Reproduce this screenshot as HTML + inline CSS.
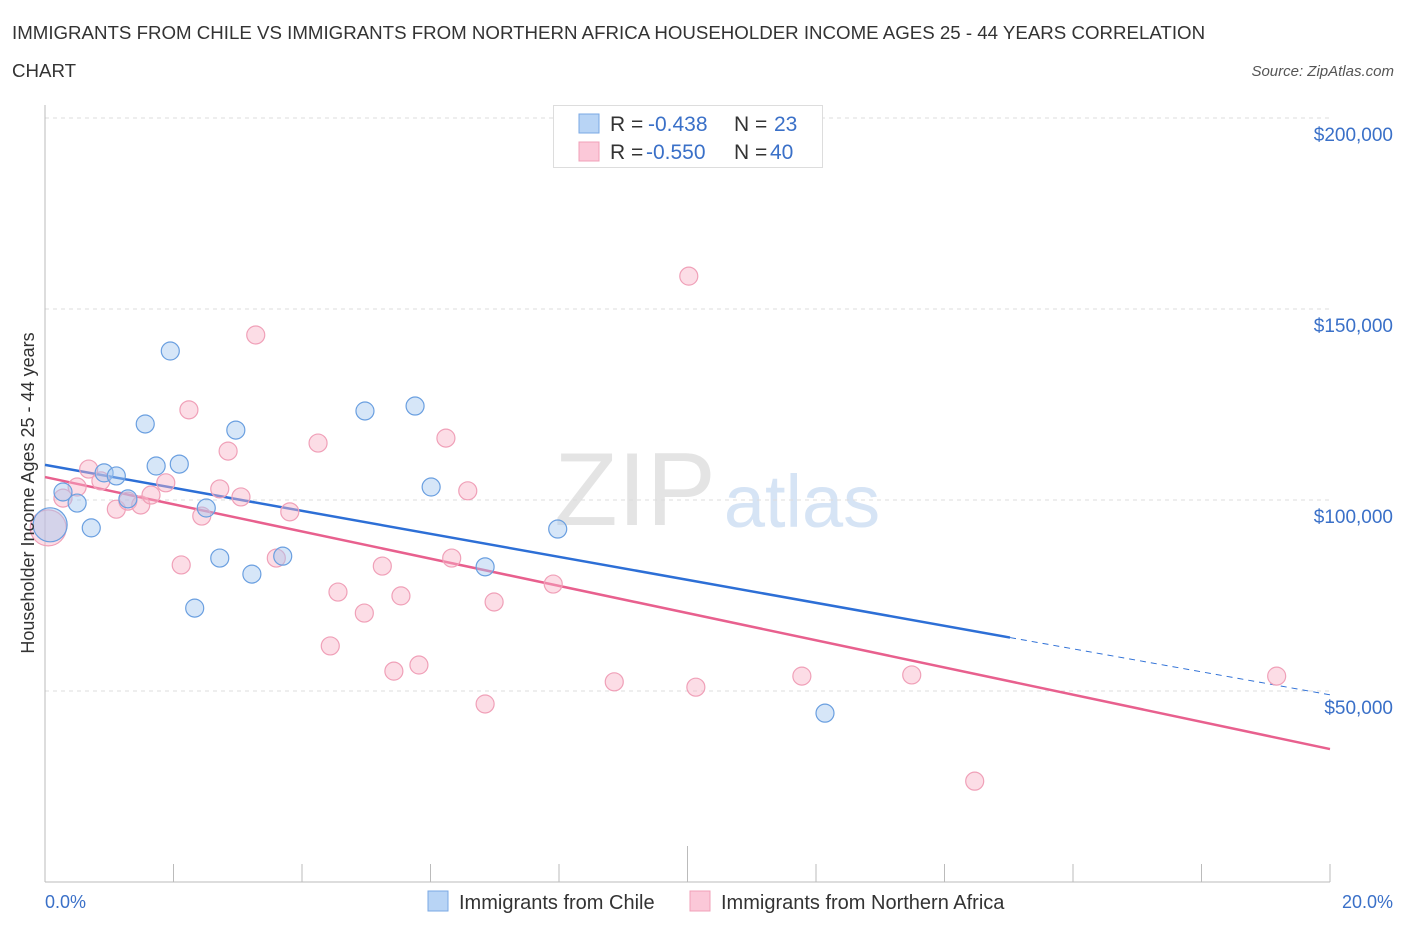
<!DOCTYPE html>
<html><head><meta charset="utf-8">
<style>
body{margin:0;background:#fff;font-family:"Liberation Sans",sans-serif;}
svg text{font-family:"Liberation Sans",sans-serif;}
</style></head>
<body>
<svg id="chart" width="1406" height="930" xmlns="http://www.w3.org/2000/svg">
<text x="12" y="39" font-size="18.7" fill="#333">IMMIGRANTS FROM CHILE VS IMMIGRANTS FROM NORTHERN AFRICA HOUSEHOLDER INCOME AGES 25 - 44 YEARS CORRELATION</text>
<text x="12" y="77" font-size="18.7" fill="#333">CHART</text>
<text x="1394" y="76" font-size="15" fill="#555" font-style="italic" text-anchor="end">Source: ZipAtlas.com</text>
<text x="635" y="525" font-size="104" fill="#e4e4e4" font-family="Liberation Serif" text-anchor="middle">ZIP</text>
<text x="802" y="527" font-size="74" fill="#d6e4f5" text-anchor="middle">atlas</text>
<g id="grid"></g>
<g id="axes"></g>
<g id="lines"></g>
<g id="points"></g>
<text transform="translate(34,493) rotate(-90)" font-size="18" fill="#333" text-anchor="middle">Householder Income Ages 25 - 44 years</text>
<text x="45" y="908" font-size="18" fill="#3a70c8">0.0%</text>
<text x="1393" y="908" font-size="18" fill="#3a70c8" text-anchor="end">20.0%</text>
<g>
<rect x="553.5" y="105.5" width="269" height="62" fill="#fff" stroke="#ddd"/>
<rect x="579" y="114" width="20" height="19" fill="#b8d4f5" stroke="#7aa8e4"/>
<rect x="579" y="142" width="20" height="19" fill="#fbc8d8" stroke="#f0a0b8"/>
<text x="610" y="131" font-size="21" fill="#333">R = <tspan x="648" fill="#3a70c8">-0.438</tspan><tspan x="734">N = </tspan><tspan x="774" fill="#3a70c8">23</tspan></text>
<text x="610" y="159" font-size="21" fill="#333">R = <tspan x="646" fill="#3a70c8">-0.550</tspan><tspan x="734">N = </tspan><tspan x="770" fill="#3a70c8">40</tspan></text>
</g>
<g>
<rect x="428" y="891" width="20" height="20" fill="#b8d4f5" stroke="#7aa8e4"/>
<text x="459" y="909" font-size="20" fill="#333">Immigrants from Chile</text>
<rect x="690" y="891" width="20" height="20" fill="#fbc8d8" stroke="#f0a0b8"/>
<text x="721" y="909" font-size="20" fill="#333">Immigrants from Northern Africa</text>
</g>
</svg>
<script>
const yTicks=[50000,100000,150000,200000];
const yTickLabels=["$50,000","$100,000","$150,000","$200,000"];
const xTicks=[0,2,4,6,8,10,12,14,16,18,20];
const chileX=[0.08,0.28,0.5,0.72,0.92,1.11,1.29,1.56,1.73,1.95,2.09,2.33,2.51,2.72,2.97,3.22,3.70,4.98,5.76,6.01,6.85,7.98,12.14];
const chileY=[93500,102100,99200,92700,107100,106300,100300,119900,108900,139000,109400,71700,97900,84800,118300,80600,85300,123300,124600,103400,82500,92400,44200];
const chileR=[17,9,9,9,9,9,9,9,9,9,9,9,9,9,9,9,9,9,9,9,9,9,9];
const africaX=[0.05,0.28,0.5,0.68,0.87,1.11,1.29,1.49,1.65,1.88,2.12,2.24,2.44,2.72,2.85,3.05,3.28,3.60,3.81,4.25,4.44,4.56,4.97,5.25,5.43,5.54,5.82,6.24,6.33,6.58,6.85,6.99,7.91,8.86,10.02,10.13,11.78,13.49,14.47,19.17];
const africaY=[92700,100500,103400,108100,105000,97600,99700,98700,101300,104500,83000,123600,95800,102900,112800,100800,143200,84800,96900,114900,61800,75900,70400,82700,55200,74900,56800,116200,84800,102400,46600,73300,78000,52400,158600,51000,53900,54200,26400,53900];
const africaR=[18,9,9,9,9,9,9,9,9,9,9,9,9,9,9,9,9,9,9,9,9,9,9,9,9,9,9,9,9,9,9,9,9,9,9,9,9,9,9,9];
const chileTrend=[109200,49000];
const chileSolidEnd=15.02;
const africaTrend=[106000,34800];

const NS="http://www.w3.org/2000/svg";
const sx=v=>45+v*(1330-45)/20;
const sy=v=>691-(v-50000)*191/50000;
function mk(tag,attrs,parent){const e=document.createElementNS(NS,tag);for(const k in attrs)e.setAttribute(k,attrs[k]);document.getElementById(parent).appendChild(e);return e;}

yTicks.forEach((t,i)=>{
 const l=mk('line',{x1:45,x2:1330,y1:sy(t),y2:sy(t),stroke:'#ddd','stroke-dasharray':'4,4'},'grid');
 
 
 const tx=mk('text',{x:1393,y:sy(t)+23,'font-size':19,fill:'#3a70c8','text-anchor':'end'},'grid');
 tx.textContent=yTickLabels[i];
 
 
});
const ax=mk('line',{x1:45,x2:45,y1:105,y2:882,stroke:'#bbb'},'axes');


const bx=mk('line',{x1:45,x2:1330,y1:882,y2:882,stroke:'#bbb'},'axes');


xTicks.forEach(t=>{
 const l=mk('line',{x1:sx(t),x2:sx(t),y1:t===10?846:864,y2:882,stroke:'#bbb'},'axes');
 
 
});
const slopeC=(chileTrend[1]-chileTrend[0])/20;
const l1=mk('line',{x1:sx(0),y1:sy(chileTrend[0]),x2:sx(chileSolidEnd),y2:sy(chileTrend[0]+slopeC*chileSolidEnd),stroke:'#2d6fd6','stroke-width':2.5},'lines');


const l2=mk('line',{x1:sx(chileSolidEnd),y1:sy(chileTrend[0]+slopeC*chileSolidEnd),x2:sx(20),y2:sy(chileTrend[1]),stroke:'#2d6fd6','stroke-width':1,'stroke-dasharray':'6,5'},'lines');


const l3=mk('line',{x1:sx(0),y1:sy(africaTrend[0]),x2:sx(20),y2:sy(africaTrend[1]),stroke:'#e8608e','stroke-width':2.5},'lines');


africaX.forEach((x,i)=>{
 const c=mk('circle',{cx:sx(x),cy:sy(africaY[i]),r:africaR[i],fill:'rgba(248,180,200,0.45)',stroke:'#f0a0b8','stroke-width':1.2},'points');
 
 
});
chileX.forEach((x,i)=>{
 const c=mk('circle',{cx:sx(x),cy:sy(chileY[i]),r:chileR[i],fill:'rgba(164,200,240,0.45)',stroke:'#6a9fe0','stroke-width':1.2},'points');
 
 
});
</script>
</body></html>
